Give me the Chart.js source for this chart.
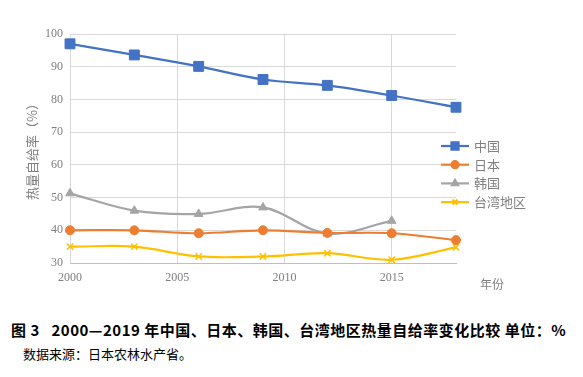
<!DOCTYPE html>
<html>
<head>
<meta charset="utf-8">
<script src="https://cdn.jsdelivr.net/npm/chart.js@4.4.1/dist/chart.umd.min.js"></script>
<style>
  html, body { margin: 0; padding: 0; background: #fff; }
  #wrap { position: relative; width: 583px; height: 377px; }
  #chart { position: absolute; left: 0; top: 0; }
  .xname { position: absolute; left: 480px; top: 275px; font: 12px "Noto Sans CJK SC"; color: #808080; }
  .cap { position: absolute; left: 11px; top: 319px; font: bold 15px "Noto Sans CJK SC"; letter-spacing: 0.5px; color: #000; white-space: nowrap; }
  .src { position: absolute; left: 23px; top: 344px; font: 13px "Noto Sans CJK SC"; color: #000; white-space: nowrap; }
</style>
</head>
<body>
<div id="wrap">
  <canvas id="chart" width="583" height="300"></canvas>
  <div class="xname">年份</div>
  <div class="cap">图 3&nbsp;&nbsp;&nbsp;2000—2019 年中国、日本、韩国、台湾地区热量自给率变化比较 单位：%</div>
  <div class="src">数据来源：日本农林水产省。</div>
</div>
<script>
const years = [2000, 2003, 2006, 2009, 2012, 2015, 2018];
const seriesNames = ["中国", "日本", "韩国", "台湾地区"];
const china = [97, 93.6, 90.1, 86.1, 84.3, 81.2, 77.6];
const japan = [40, 40, 39.1, 40, 39.2, 39.1, 37];
const korea = [51.3, 46, 45, 47, 39, 42.9, null];
const taiwan = [35, 35, 32, 32, 33, 31, 34.8];
const yTicks = [30, 40, 50, 60, 70, 80, 90, 100];
const xTicks = [2000, 2005, 2010, 2015];

const pts = arr => years.map((x, i) => ({ x: x, y: arr[i] })).filter(p => p.y !== null);

const styles = [
  { color: "#4472C4", point: "rect", radius: 7 },
  { color: "#ED7D31", point: "circle", radius: 4.5 },
  { color: "#A5A5A5", point: "triangle", radius: 5 },
  { color: "#FFC000", point: "crossRot", radius: 4.5 },
];

const datasets = [china, japan, korea, taiwan].map((arr, i) => ({
  label: seriesNames[i],
  data: pts(arr),
  borderColor: styles[i].color,
  backgroundColor: styles[i].color,
  pointStyle: styles[i].point,
  pointRadius: styles[i].radius,
  pointBorderWidth: styles[i].point === "crossRot" ? 1.5 : 1,
  borderWidth: 2.2,
  tension: 0.35,
  clip: false,
}));

// legend drawn beside the plot, overlapping its right edge like the original
const sideLegend = {
  id: "sideLegend",
  afterDraw(chart) {
    const ctx = chart.ctx;
    const x0 = chart.chartArea.right - 15;
    let y = 146;
    chart.data.datasets.forEach(ds => {
      ctx.save();
      ctx.strokeStyle = ds.borderColor;
      ctx.lineWidth = 2.2;
      ctx.beginPath();
      ctx.moveTo(x0, y);
      ctx.lineTo(x0 + 28, y);
      ctx.stroke();
      ctx.fillStyle = ds.backgroundColor;
      Chart.helpers.drawPoint(ctx, {
        pointStyle: ds.pointStyle,
        radius: ds.pointStyle === "rect" ? 5 : 3.5,
        borderWidth: ds.pointBorderWidth,
        rotation: 0,
      }, x0 + 14, y);
      ctx.fillStyle = "#808080";
      ctx.font = "13px 'Noto Sans CJK SC'";
      ctx.textBaseline = "middle";
      ctx.fillText(ds.label, x0 + 33, y);
      ctx.restore();
      y += 18.7;
    });
  }
};

new Chart(document.getElementById("chart"), {
  type: "line",
  data: { datasets: datasets },
  options: {
    responsive: false,
    animation: false,
    layout: { padding: { top: 34, right: 127, left: 0, bottom: 0 } },
    plugins: { legend: { display: false }, tooltip: { enabled: false } },
    scales: {
      x: {
        type: "linear",
        min: 2000,
        max: 2018,
        afterBuildTicks: s => { s.ticks = xTicks.map(v => ({ value: v })); },
        afterFit: s => { s.height = 37; },
        ticks: {
          padding: 8,
          color: "#808080",
          font: { family: "Liberation Serif", size: 12 },
          callback: v => String(v),
        },
        grid: { color: "#d9d9d9", drawTicks: false },
        border: { color: "#bfbfbf" },
      },
      y: {
        min: 30,
        max: 100,
        afterBuildTicks: s => { s.ticks = yTicks.map(v => ({ value: v })); },
        afterFit: s => { s.width = 70; },
        ticks: { padding: 7, color: "#808080", font: { family: "Liberation Serif", size: 12 } },
        grid: { color: "#d9d9d9", drawTicks: false },
        border: { color: "#d9d9d9" },
        title: {
          display: true,
          text: "热量自给率（%）",
          color: "#808080",
          font: { family: "Noto Sans CJK SC", size: 13 },
          padding: { top: 24, bottom: 0 },
        },
      },
    },
  },
  plugins: [sideLegend],
});
</script>
</body>
</html>
